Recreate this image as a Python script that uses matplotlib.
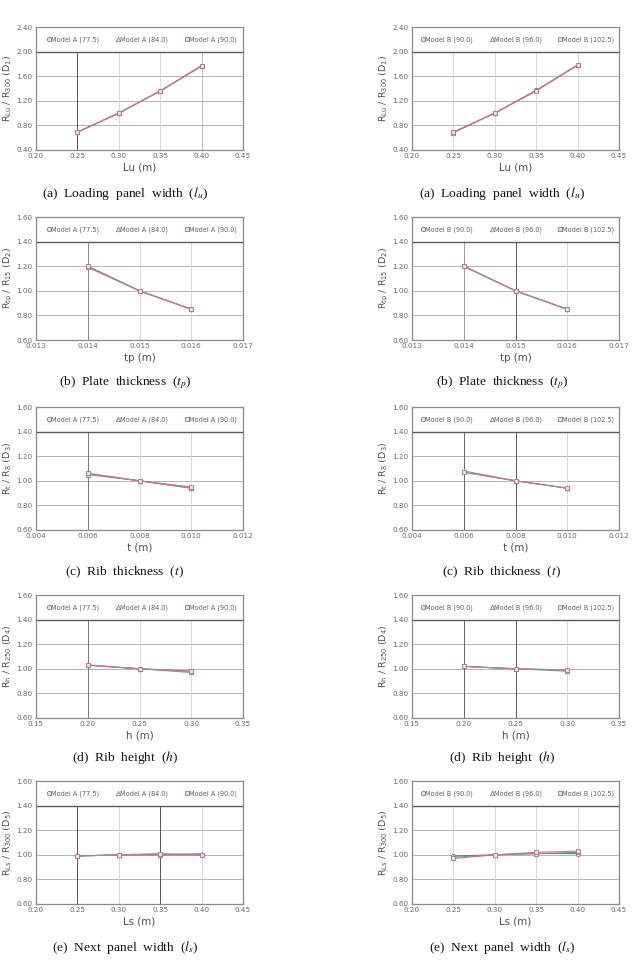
import matplotlib
matplotlib.use("Agg")
import matplotlib.pyplot as plt

plt.rcParams['font.family'] = ['DejaVu Sans']
plt.rcParams['mathtext.fontset'] = 'stix'
plt.rcParams['mathtext.default'] = 'regular'

# ---------------- data ----------------
names_a = ["Model A (77.5)", "Model A (84.0)", "Model A (90.0)"]
names_b = ["Model B (90.0)", "Model B (96.0)", "Model B (102.5)"]

lu = [0.25, 0.30, 0.35, 0.40]
a_lu = [[0.69, 1.00, 1.36, 1.77], [0.69, 1.00, 1.36, 1.76], [0.69, 1.00, 1.36, 1.77]]
b_lu = [[0.69, 1.00, 1.37, 1.78], [0.68, 1.00, 1.37, 1.78], [0.69, 1.00, 1.36, 1.78]]

tp = [0.014, 0.015, 0.016]
a_tp = [[1.20, 1.00, 0.85], [1.19, 1.00, 0.85], [1.20, 1.00, 0.85]]
b_tp = [[1.20, 1.00, 0.85], [1.20, 1.00, 0.85], [1.20, 1.00, 0.85]]

t = [0.006, 0.008, 0.010]
a_t = [[1.06, 1.00, 0.94], [1.05, 1.00, 0.94], [1.06, 1.00, 0.95]]
b_t = [[1.07, 1.00, 0.94], [1.08, 1.00, 0.94], [1.07, 1.00, 0.94]]

h = [0.20, 0.25, 0.30]
a_h = [[1.03, 1.00, 0.98], [1.03, 1.00, 0.97], [1.03, 1.00, 0.98]]
b_h = [[1.02, 1.00, 0.99], [1.02, 1.00, 0.98], [1.02, 1.00, 0.99]]

ls = [0.25, 0.30, 0.35, 0.40]
a_ls = [[0.99, 1.00, 1.00, 1.00], [0.99, 1.00, 1.00, 1.01], [0.99, 1.00, 1.01, 1.00]]
b_ls = [[0.99, 1.00, 1.01, 1.01], [0.98, 1.00, 1.01, 1.02], [0.97, 1.00, 1.02, 1.03]]

xt_lu = [0.20, 0.25, 0.30, 0.35, 0.40, 0.45]
xt_tp = [0.013, 0.014, 0.015, 0.016, 0.017]
xt_t = [0.004, 0.006, 0.008, 0.010, 0.012]
xt_h = [0.15, 0.20, 0.25, 0.30, 0.35]
xt_ls = [0.20, 0.25, 0.30, 0.35, 0.40, 0.45]
yt_1 = [0.40, 0.80, 1.20, 1.60, 2.00, 2.40]
yt_2 = [0.60, 0.80, 1.00, 1.20, 1.40, 1.60]

xlabels = ["Lu (m)", "tp (m)", "t (m)", "h (m)", "Ls (m)"]
ylabels = ["R$_{Lu}$ / R$_{300}$ (D$_1$)", "R$_{tp}$ / R$_{15}$ (D$_2$)",
           "R$_t$ / R$_8$ (D$_3$)", "R$_h$ / R$_{250}$ (D$_4$)",
           "R$_{Ls}$ / R$_{300}$ (D$_5$)"]
captions = [r"(a)  Loading  panel  width  ($\mathit{l_u}$)",
            r"(b)  Plate  thickness  ($\mathit{t_p}$)",
            r"(c)  Rib  thickness  ($\mathit{t}$)",
            r"(d)  Rib  height  ($\mathit{h}$)",
            r"(e)  Next  panel  width  ($\mathit{l_s}$)"]

rows = [
    (lu, a_lu, b_lu, xt_lu, yt_1, "%.2f"),
    (tp, a_tp, b_tp, xt_tp, yt_2, "%.3f"),
    (t, a_t, b_t, xt_t, yt_2, "%.3f"),
    (h, a_h, b_h, xt_h, yt_2, "%.2f"),
    (ls, a_ls, b_ls, xt_ls, yt_2, "%.2f"),
]

# darker vertical grid lines (rendering intensity in the reference)
dark_v = [
    ({0.25: '#555555', 0.40: '#bbbbbb'}, {}),
    ({0.014: '#888888'}, {0.014: '#999999', 0.015: '#555555'}),
    ({0.006: '#777777'}, {0.006: '#666666', 0.008: '#555555'}),
    ({0.20: '#777777'}, {0.20: '#666666', 0.25: '#555555'}),
    ({0.25: '#555555', 0.35: '#555555'}, {}),
]

# ---------------- style ----------------
colors = ['#70708e', '#7a9c8e', '#c8788a']
markers = ['o', '^', 's']
mfc = ['#e4e4ec', '#e4ece8', '#f0dde2']
mec = ['#808080', '#888888', '#a07a84']

W, H = 641, 964
fig = plt.figure(figsize=(W / 100, H / 100), dpi=100)

col_left = [36, 412]
row_top = [27, 217, 407, 595, 781]
aw, ah = 207, 123
cap_y = [193, 383, 572, 758, 947]
cap_x = [125, 502]

for r, (xs, da, db, xt, yt, xfmt) in enumerate(rows):
    for c, (data, names) in enumerate([(da, names_a), (db, names_b)]):
        ax = fig.add_axes([col_left[c] / W, 1 - (row_top[r] + ah) / H, aw / W, ah / H])
        ax.set_xlim(xt[0], xt[-1])
        ax.set_ylim(yt[0], yt[-1])
        ax.set_xticks(xt)
        ax.set_yticks(yt)
        ax.set_xticklabels([xfmt % v for v in xt])
        ax.set_yticklabels(["%.2f" % v for v in yt])
        ax.tick_params(length=0, labelsize=5.2, labelcolor='#6a6a6a', pad=2.5)
        for sp in ax.spines.values():
            sp.set_color('#8a8a8a')
            sp.set_linewidth(0.9)
        # horizontal grid
        for v in yt[1:-1]:
            ax.axhline(v, color='#a8a8a8', lw=0.6, zorder=1)
        sep = yt[-2]
        ax.axhline(sep, color='#5a5a5a', lw=1.0, zorder=2)
        frac = (sep - yt[0]) / (yt[-1] - yt[0])
        dv = dark_v[r][c]
        for v in xt[1:-1]:
            col = '#d8d8d8'
            for k, cc in dv.items():
                if abs(k - v) < 1e-9:
                    col = cc
            ax.axvline(v, ymin=0, ymax=frac, color=col, lw=0.7, zorder=1)
        handles = []
        for i in range(3):
            ln, = ax.plot(xs, data[i], color=colors[i], lw=0.8, marker=markers[i],
                          ms=3.2, mfc=mfc[i], mec=mec[i], mew=0.6, zorder=3 + i,
                          label=names[i])
            handles.append(ln)
        leg = ax.legend(handles=handles, loc='center', bbox_to_anchor=(0.515, (1 + frac) / 2),
                        ncol=3, frameon=False, fontsize=4.7, handlelength=0,
                        handletextpad=0.3, columnspacing=2.9, borderaxespad=0)
        for txt in leg.get_texts():
            txt.set_color('#606060')
        for lh in leg.legend_handles:
            lh.set_linestyle('none')
        ax.set_xlabel(xlabels[r], fontsize=7.4, color='#505050')
        ax.xaxis.set_label_coords(0.5, -18 / ah)
        ax.xaxis.label.set_va('center')
        ax.set_ylabel(ylabels[r], fontsize=6.8, color='#505050')
        ax.yaxis.set_label_coords(-28 / aw, 0.5)
        ax.yaxis.label.set_va('center')
        fig.text(cap_x[c] / W, 1 - cap_y[r] / H, captions[r], family='Liberation Serif',
                 fontsize=9.7, ha='center', va='center', color='#111111')

fig.savefig("out.png", dpi=100)
